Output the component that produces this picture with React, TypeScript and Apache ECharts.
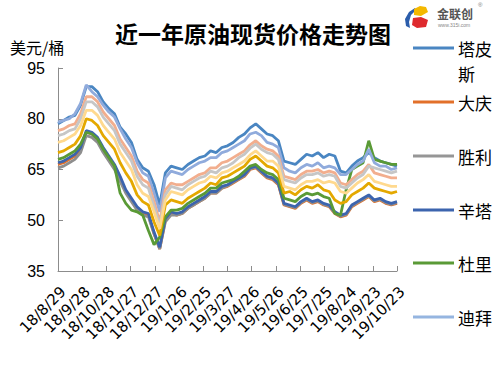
import React, { useEffect, useRef } from "react";
import * as echarts from "echarts";

const tickLabels = ["18/8/29", "18/9/28", "18/10/28", "18/11/27", "18/12/27", "19/1/26", "19/2/25", "19/3/27", "19/4/26", "19/5/26", "19/6/25", "19/7/25", "19/8/24", "19/9/23", "19/10/23"];

// sample days (every 7 days from 18/8/29)
const sampleDays = Array.from({ length: 61 }, (_, i) => i * 7);

const tapis = [78.5, 79.5, 80.5, 81.0, 84.0, 89.5, 89.5, 88.0, 85.0, 83.0,
  81.5, 77.5, 75.5, 73.0, 68.0, 65.5, 64.5, 60.5, 54.5, 64.0,
  66.0, 65.5, 65.0, 66.5, 67.5, 68.5, 69.0, 70.5, 70.0, 71.5,
  72.0, 73.0, 74.5, 75.5, 77.3, 78.5, 77.0, 75.5, 75.0, 73.5,
  67.5, 67.0, 66.5, 68.0, 69.5, 69.0, 70.0, 68.5, 69.5, 69.0,
  64.5, 64.0, 66.0, 67.5, 68.5, 70.0, 68.5, 67.5, 67.0, 66.5,
  66.0];
const daqing = [66.5, 67.0, 68.0, 69.0, 71.0, 76.0, 75.5, 74.0, 71.0, 68.5,
  66.0, 62.5, 58.5, 56.0, 53.5, 52.0, 51.5, 46.0, 41.5, 50.0,
  52.0, 51.5, 52.0, 53.5, 54.5, 55.5, 56.5, 58.0, 58.0, 59.5,
  60.0, 61.0, 62.0, 63.0, 65.0, 65.5, 64.0, 62.5, 62.0, 60.5,
  54.5, 54.0, 53.5, 55.0, 56.0, 55.0, 55.5, 54.5, 54.0, 52.0,
  51.0, 51.5, 54.0, 55.0, 56.0, 57.0, 55.5, 56.0, 55.0, 54.5,
  55.0];
const shengli = [65.5, 66.0, 67.0, 68.0, 70.0, 75.0, 74.5, 73.0, 70.0, 67.5,
  65.0, 61.5, 58.0, 55.5, 53.0, 51.5, 51.0, 46.0, 41.5, 49.5,
  51.5, 51.5, 52.0, 53.5, 54.5, 55.5, 56.5, 58.0, 58.0, 59.5,
  60.2, 61.2, 62.2, 63.2, 65.2, 65.7, 64.2, 62.7, 62.2, 60.7,
  54.7, 54.2, 53.7, 55.2, 56.2, 55.2, 55.7, 54.7, 54.2, 52.2,
  51.2, 51.7, 54.2, 55.2, 56.2, 57.2, 55.7, 56.2, 55.2, 54.7,
  55.2];
const xinta = [67.0, 67.5, 68.5, 69.5, 71.5, 76.5, 76.0, 74.5, 71.5, 69.0,
  66.5, 63.0, 59.0, 56.5, 54.0, 52.5, 52.0, 46.5, 42.0, 50.5,
  52.5, 52.0, 52.5, 54.0, 55.0, 56.0, 57.0, 58.5, 58.5, 60.0,
  60.5, 61.5, 62.5, 63.5, 65.5, 66.0, 64.5, 63.0, 62.5, 61.0,
  55.0, 54.5, 54.0, 55.5, 56.5, 55.5, 56.0, 55.0, 54.5, 52.5,
  51.5, 52.0, 54.5, 55.5, 56.5, 57.5, 56.0, 56.5, 55.5, 55.0,
  55.5];
const duri = [68.0, 68.5, 69.5, 70.5, 72.5, 76.0, 75.5, 74.0, 71.0, 68.5,
  66.0, 58.0, 55.0, 53.0, 52.5, 51.5, 47.0, 42.8, 45.0, 51.0,
  53.0, 53.0, 53.5, 55.0, 56.0, 57.0, 58.0, 59.5, 59.5, 61.0,
  61.5, 62.0, 63.0, 64.5, 66.0, 66.5, 65.0, 64.0, 63.5, 62.0,
  56.5, 56.0, 55.5, 57.0, 58.0, 57.5, 58.0, 57.0, 56.5, 52.0,
  51.5, 59.0, 65.0, 66.0, 67.0, 73.5, 68.0, 67.5, 67.0, 66.5,
  66.5];
const dubai = [79.0, 79.5, 80.0, 81.5, 84.5, 90.0, 88.0, 86.5, 84.0, 82.0,
  80.5, 77.0, 74.0, 71.5, 67.0, 64.0, 63.0, 58.0, 52.5, 62.5,
  64.5, 64.0, 63.5, 65.0, 66.0, 67.0, 67.5, 68.5, 68.5, 70.0,
  70.5, 71.5, 72.5, 73.5, 75.5, 76.0, 75.0, 73.0, 72.5, 71.5,
  65.5, 64.5, 64.0, 65.5, 66.5, 66.0, 67.0, 65.5, 66.0, 65.5,
  63.5, 63.5, 65.0, 66.5, 67.5, 71.0, 67.0, 66.0, 66.0, 65.0,
  65.5];
const seriesG = [70.0, 70.5, 71.5, 72.5, 75.0, 80.0, 79.5, 78.0, 75.0, 73.0,
  71.0, 67.0, 64.0, 61.5, 57.5, 55.5, 54.5, 49.5, 45.5, 54.5,
  56.0, 55.5, 55.0, 56.5, 57.5, 58.5, 59.5, 61.0, 60.5, 62.5,
  63.0, 64.0, 65.0, 66.0, 68.0, 69.0, 67.5, 66.0, 65.5, 64.0,
  58.0, 58.5, 57.5, 59.0, 60.0, 59.5, 60.5, 59.0, 58.5, 56.0,
  55.0, 55.5, 57.5, 58.5, 59.5, 61.0, 59.5, 59.0, 58.5, 58.0,
  58.5];
const seriesS = [76.5, 77.0, 78.0, 78.5, 81.5, 86.5, 86.5, 85.0, 82.0, 80.0,
  78.0, 74.0, 71.5, 69.0, 64.5, 62.0, 61.0, 55.5, 49.5, 59.0,
  61.0, 60.5, 60.5, 61.5, 62.5, 63.5, 64.0, 65.5, 65.5, 67.0,
  67.5, 68.5, 69.5, 70.5, 72.3, 73.5, 72.0, 71.0, 70.5, 69.0,
  63.0, 62.5, 62.0, 63.5, 64.5, 64.5, 65.0, 64.0, 64.5, 64.0,
  61.0, 60.5, 62.0, 63.5, 64.5, 66.5, 64.0, 63.5, 63.0, 62.5,
  62.5];
const seriesLG = [75.0, 75.5, 76.5, 77.0, 80.0, 85.0, 85.0, 83.5, 80.5, 78.5,
  76.5, 72.5, 70.0, 67.5, 63.0, 60.5, 59.5, 54.0, 48.5, 57.5,
  60.0, 59.5, 59.0, 60.5, 61.5, 62.5, 63.0, 64.5, 64.0, 65.5,
  66.0, 67.0, 68.5, 69.5, 71.3, 72.5, 71.0, 70.0, 69.5, 68.0,
  62.0, 61.5, 61.0, 62.5, 63.5, 63.5, 64.0, 63.0, 63.5, 63.0,
  60.0, 59.5, 61.0, 62.5, 63.5, 66.0, 65.5, 65.0, 64.5, 64.0,
  64.5];
const seriesPY = [73.0, 73.5, 74.5, 75.5, 78.0, 82.5, 82.5, 81.0, 78.0, 76.0,
  74.0, 70.0, 67.5, 65.0, 60.5, 58.0, 57.0, 52.5, 47.5, 56.0,
  58.5, 58.0, 57.5, 59.0, 60.0, 61.0, 61.5, 63.0, 62.5, 64.0,
  64.5, 65.5, 66.5, 67.5, 69.3, 70.5, 69.0, 67.5, 67.5, 66.0,
  60.0, 59.5, 59.0, 60.5, 61.5, 61.5, 62.0, 61.0, 61.5, 61.0,
  58.5, 58.0, 59.5, 61.0, 62.0, 63.5, 61.5, 61.0, 60.5, 60.0,
  60.0];

const seriesDefs = [
  { name: "塔皮斯", data: tapis, color: "#4A86C2" },
  { name: "大庆", data: daqing, color: "#E2702A" },
  { name: "胜利", data: shengli, color: "#8E8E8E" },
  { name: "辛塔", data: xinta, color: "#3C64AE" },
  { name: "杜里", data: duri, color: "#5A9A36" },
  { name: "迪拜", data: dubai, color: "#90ABDC" },
  { name: "s7", data: seriesG, color: "#E4A800" },
  { name: "s8", data: seriesS, color: "#F2AE8E" },
  { name: "s9", data: seriesLG, color: "#C6C6C6" },
  { name: "s10", data: seriesPY, color: "#FFD98E" },
];

const legendItems = [
  { text: "塔皮\n斯", color: "#4A86C2", y: 48, twoLine: true },
  { text: "大庆", color: "#E2702A", y: 102 },
  { text: "胜利", color: "#969696", y: 156 },
  { text: "辛塔", color: "#3C64AE", y: 210 },
  { text: "杜里", color: "#5A9A36", y: 263 },
  { text: "迪拜", color: "#95B5E0", y: 317 },
];

export default function App() {
  const ref = useRef<HTMLDivElement>(null);
  useEffect(() => {
    if (!ref.current) return;
    const chart = echarts.init(ref.current, null, { renderer: "svg" });
    const cjk = "'Noto Sans CJK SC', 'Noto Sans', sans-serif";
    const graphic: any[] = [
      {
        type: "text", x: 253, y: 33,
        style: { text: "近一年原油现货价格走势图", fontSize: 23, fontWeight: "bold", fontFamily: cjk, fill: "#000", align: "center", verticalAlign: "middle" },
      },
      {
        type: "text", x: 10, y: 47,
        style: { text: "美元/桶", fontSize: 16, fontFamily: cjk, fill: "#000", align: "left", verticalAlign: "middle" },
      },
      // logo
      { type: "polygon", shape: { points: [[415, 8], [409, 12], [405, 19], [406, 26], [410, 28], [409, 22], [411, 15], [416, 10]] }, style: { fill: "#2B5DAB" } },
      { type: "polygon", shape: { points: [[414, 9], [420, 6], [426, 7], [428, 12], [421, 16], [414, 15]] }, style: { fill: "#F4B800" } },
      { type: "polygon", shape: { points: [[413, 18], [421, 17], [428, 20], [426, 27], [417, 28], [412, 25]] }, style: { fill: "#DE2A2E" } },
      { type: "text", x: 437, y: 13, style: { text: "金联创", fontSize: 12, lineHeight: 13, fontWeight: "bold", fontFamily: cjk, fill: "#555", verticalAlign: "middle" } },
      { type: "text", x: 478, y: 5, style: { text: "®", fontSize: 6, lineHeight: 6, fontFamily: "Liberation Sans", fill: "#777", verticalAlign: "middle" } },
      { type: "text", x: 438, y: 25, style: { text: "www.315i.com", fontSize: 5, lineHeight: 5, fontFamily: "Liberation Sans", fill: "#888", verticalAlign: "middle" } },
    ];
    legendItems.forEach((it) => {
      graphic.push({ type: "line", shape: { x1: 413, y1: it.y, x2: 454, y2: it.y }, style: { stroke: it.color, lineWidth: 3 } });
      graphic.push({
        type: "text", x: 458, y: it.twoLine ? it.y - 12.5 : it.y,
        style: { text: it.text, fontSize: 17, lineHeight: 25, fontFamily: cjk, fill: "#000", align: "left", verticalAlign: it.twoLine ? "top" : "middle" },
      });
    });

    chart.setOption({
      animation: false,
      backgroundColor: "#fff",
      grid: { left: 58, right: 107, top: 68, bottom: 95, containLabel: false },
      xAxis: {
        type: "value", min: 0, max: 420, interval: 30,
        axisLine: { show: true, lineStyle: { color: "#8C8C8C", width: 1 } },
        axisTick: { show: true, inside: true, length: 5, lineStyle: { color: "#8C8C8C" } },
        splitLine: { show: false },
        axisLabel: {
          rotate: 45, margin: 13, fontSize: 15, color: "#000", fontFamily: "'DejaVu Sans', sans-serif",
          verticalAlign: "top",
          formatter: (v: number) => tickLabels[Math.round(v / 30)] ?? "",
        },
      },
      yAxis: {
        type: "value", min: 35, max: 95, interval: 15,
        axisLine: { show: true, lineStyle: { color: "#8C8C8C", width: 1 } },
        axisTick: { show: true, inside: true, length: 5, lineStyle: { color: "#8C8C8C" } },
        splitLine: { show: false },
        axisLabel: { fontSize: 16, color: "#000", margin: 13, fontFamily: "'Liberation Sans', Arial, sans-serif" },
      },
      series: seriesDefs.map((s) => ({
        name: s.name,
        type: "line",
        data: s.data.map((v, i) => [sampleDays[i], v]),
        showSymbol: false,
        symbol: "none",
        lineStyle: { width: 2.8, color: s.color },
        itemStyle: { color: s.color },
        smooth: false,
      })),
      graphic,
    });
    return () => chart.dispose();
  }, []);
  return <div ref={ref} style={{ position: "fixed", left: 0, top: 0, width: 504, height: 366 }} />;
}
